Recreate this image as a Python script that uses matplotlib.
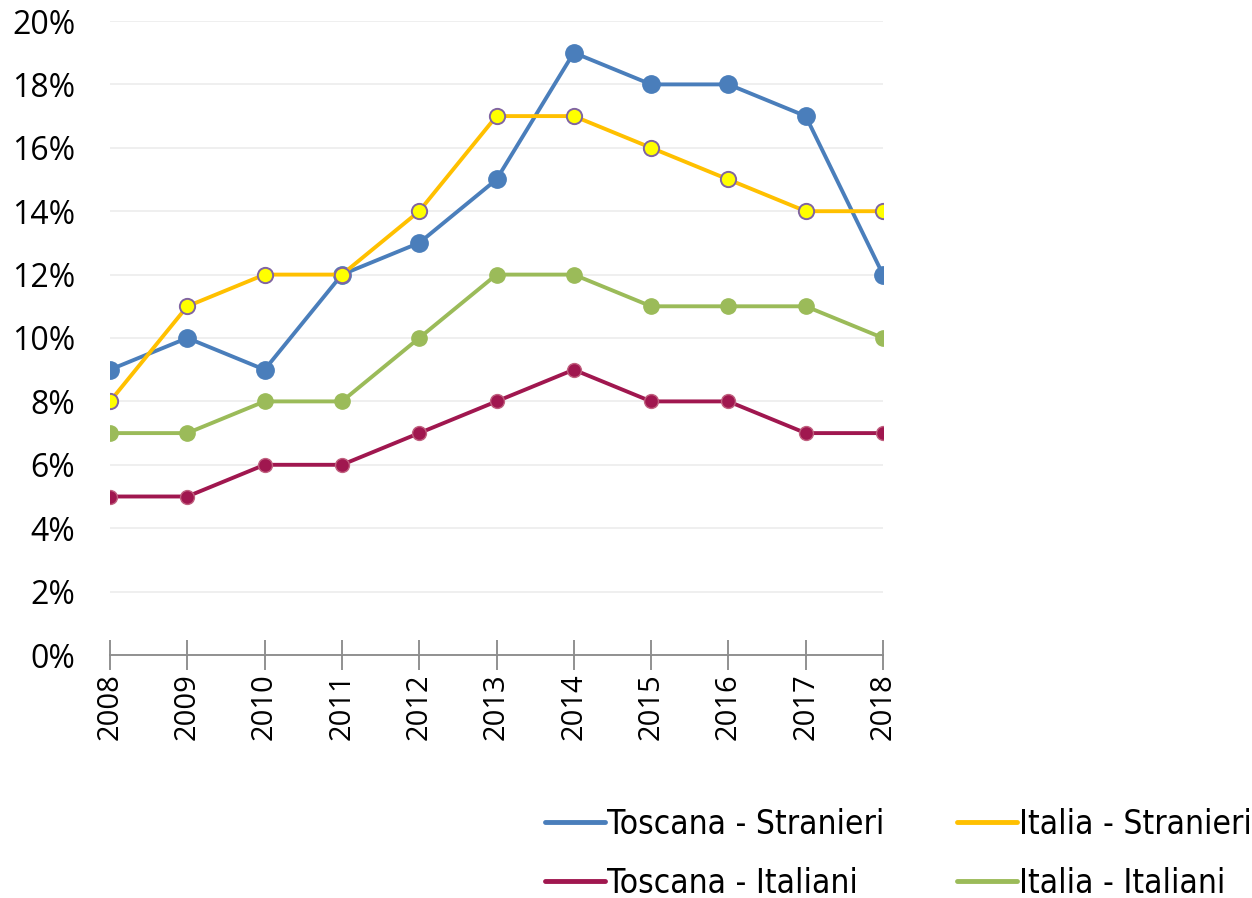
import matplotlib.pyplot as plt
from matplotlib.ticker import PercentFormatter
from matplotlib.lines import Line2D

# dati
anni = [2008, 2009, 2010, 2011, 2012, 2013, 2014, 2015, 2016, 2017, 2018]
toscana_stranieri = [9, 10, 9, 12, 13, 15, 19, 18, 18, 17, 12]
italia_stranieri = [8, 11, 12, 12, 14, 17, 17, 16, 15, 14, 14]
toscana_italiani = [5, 5, 6, 6, 7, 8, 9, 8, 8, 7, 7]
italia_italiani = [7, 7, 8, 8, 10, 12, 12, 11, 11, 11, 10]

blu = '#4a7ebb'
giallo = '#ffc000'
rosso = '#a0174f'
verde = '#9bbb59'

plt.rcParams['font.family'] = ['Open Sans', 'DejaVu Sans']

leg_prop = {'family': 'DejaVu Sans', 'stretch': 'condensed', 'size': 24}

fig = plt.figure(figsize=(12.52, 8.98), dpi=100)
ax = fig.add_axes([110 / 1252, 243 / 898, 773 / 1252, 634 / 898])

ax.plot(anni, italia_italiani, color=verde, lw=2.8, marker='o', ms=11,
        mfc=verde, mec=verde, zorder=3)
ax.plot(anni, toscana_italiani, color=rosso, lw=2.8, marker='o', ms=10,
        mfc=rosso, mec='#c0607f', mew=1, zorder=3)
ax.plot(anni, italia_stranieri, color=giallo, lw=2.8, marker='o', ms=11,
        mfc='#ffff00', mec='#8064a2', mew=1.4, zorder=4)
ax.plot(anni, toscana_stranieri, color=blu, lw=2.8, marker='o', ms=12.5,
        mfc=blu, mec=blu, zorder=3)

ax.set_xlim(2008, 2018)
ax.set_ylim(0, 20)
ax.set_yticks(range(0, 21, 2))
ax.yaxis.set_major_formatter(PercentFormatter(decimals=0))
ax.set_xticks(anni)
ax.set_xticklabels([str(a) for a in anni], rotation=90)

ax.grid(axis='y', color='#ececec', lw=1.2)
ax.set_axisbelow(True)
for s in ['top', 'right', 'left']:
    ax.spines[s].set_visible(False)
ax.spines['bottom'].set_color('#888888')
ax.spines['bottom'].set_linewidth(1.3)
ax.tick_params(axis='y', length=0, labelsize=23, pad=25)
ax.tick_params(axis='x', direction='inout', length=22, width=1.3,
               color='#888888', labelsize=21, pad=2)

handles = [
    Line2D([], [], color=blu, lw=3.5, solid_capstyle='round'),
    Line2D([], [], color=rosso, lw=3.5, solid_capstyle='round'),
    Line2D([], [], color=giallo, lw=3.5, solid_capstyle='round'),
    Line2D([], [], color=verde, lw=3.5, solid_capstyle='round'),
]
labels = ['Toscana - Stranieri', 'Toscana - Italiani',
          'Italia - Stranieri', 'Italia - Italiani']
fig.legend(handles, labels, ncol=2, loc='upper left',
           bbox_to_anchor=(515 / 1252, 1 - 778 / 898), frameon=False,
           prop=leg_prop, handlelength=1.8, handletextpad=0.05,
           columnspacing=2.2, labelspacing=0.77)

fig.savefig('out.png', dpi=100)
